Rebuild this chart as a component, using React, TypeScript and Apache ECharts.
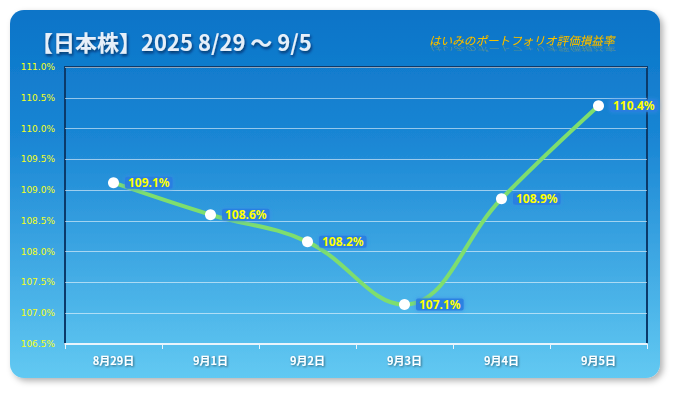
import React, { useEffect, useRef } from "react";
import * as echarts from "echarts";

const categories = ["8月29日", "9月1日", "9月2日", "9月3日", "9月4日", "9月5日"];
const values = [109.12, 108.6, 108.16, 107.14, 108.86, 110.37];
const yTicks = { min: 106.5, max: 111.0, interval: 0.5 };
const titleText = "【日本株】2025 8/29 ～ 9/5";
const subtitleText = "はいみのポートフォリオ評価損益率";

export default function App() {
  const ref = useRef<HTMLDivElement>(null);
  useEffect(() => {
    if (!ref.current) return;
    const chart = echarts.init(ref.current, null, { renderer: "svg" });
    chart.setOption({
      animation: false,
      graphic: [
        {
          type: "rect",
          z: -10,
          shape: { x: 10, y: 10, width: 650, height: 368, r: 14 },
          style: {
            fill: new echarts.graphic.LinearGradient(0, 0, 0, 1, [
              { offset: 0, color: "#0a74c8" },
              { offset: 0.35, color: "#1a86d4" },
              { offset: 1, color: "#62c9f2" },
            ]),
            shadowBlur: 6,
            shadowOffsetX: 3,
            shadowOffsetY: 3,
            shadowColor: "rgba(0,0,0,0.3)",
          },
        },
        {
          type: "text",
          x: 31,
          y: 41,
          style: {
            text: titleText,
            fill: "#e6eff9",
            font: "bold 22px 'Noto Sans CJK JP', sans-serif",
            verticalAlign: "middle",
            textShadowColor: "rgba(0,20,60,0.7)",
            textShadowBlur: 3,
            textShadowOffsetX: 1,
            textShadowOffsetY: 2,
          },
        },
        {
          type: "text",
          x: 429,
          y: 40,
          style: {
            text: subtitleText,
            fill: "#f5c200",
            font: "italic 11.6px 'Noto Sans CJK JP', sans-serif",
            verticalAlign: "middle",
            textShadowColor: "rgba(150,70,0,0.5)",
            textShadowBlur: 1,
          },
        },
        {
          type: "text",
          x: 429,
          y: 49,
          scaleY: -0.6,
          style: {
            text: subtitleText,
            fill: "rgba(246,196,0,0.3)",
            font: "italic 11.6px 'Noto Sans CJK JP', sans-serif",
            verticalAlign: "middle",
          },
        },
      ],
      grid: {
        left: 65,
        right: 28,
        top: 67,
        bottom: 49,
        show: true,
        borderColor: "#0b3a6a",
        borderWidth: 2,
        backgroundColor: "transparent",
      },
      xAxis: {
        type: "category",
        data: categories,
        boundaryGap: true,
        axisLine: { show: true, lineStyle: { color: "#e8f4fc", width: 2 } },
        axisTick: { show: true, length: 5, lineStyle: { color: "#e8f4fc" } },
        axisLabel: {
          color: "#ffffff",
          fontSize: 11,
          fontWeight: "bold",
          margin: 10,
          fontFamily: "'Noto Sans CJK JP', sans-serif",
          textShadowColor: "rgba(0,0,0,0.5)",
          textShadowBlur: 2,
          textShadowOffsetX: 1,
          textShadowOffsetY: 1,
        },
        splitLine: { show: false },
      },
      yAxis: {
        type: "value",
        min: yTicks.min,
        max: yTicks.max,
        interval: yTicks.interval,
        axisLine: { show: false },
        axisTick: { show: false },
        axisLabel: {
          color: "#f5ff1a",
          fontSize: 9,
          margin: 10,
          fontFamily: "'DejaVu Sans', sans-serif",
          formatter: (v: number) => v.toFixed(1) + "%",
        },
        splitLine: { show: true, lineStyle: { color: "rgba(255,255,255,0.55)", width: 1 } },
      },
      series: [
        {
          type: "line",
          data: values,
          smooth: 0.4,
          symbol: "circle",
          symbolSize: 11,
          itemStyle: { color: "#ffffff" },
          lineStyle: { color: "#7ede6e", width: 4 },
          label: {
            show: true,
            position: "right",
            distance: 6,
            formatter: (p: any) => p.value.toFixed(1) + "%",
            color: "#ffff00",
            fontSize: 12,
            fontWeight: "bold",
            fontFamily: "'Noto Sans', sans-serif",
            backgroundColor: "rgba(40,125,225,0.85)",
            padding: [0, 3],
            borderRadius: 2,
            shadowColor: "#3a8ae8",
            shadowBlur: 4,
          },
        },
      ],
    });
    return () => chart.dispose();
  }, []);
  return (
    <div
      ref={ref}
      style={{ position: "fixed", left: 0, top: 0, width: 675, height: 393, background: "#ffffff" }}
    />
  );
}
